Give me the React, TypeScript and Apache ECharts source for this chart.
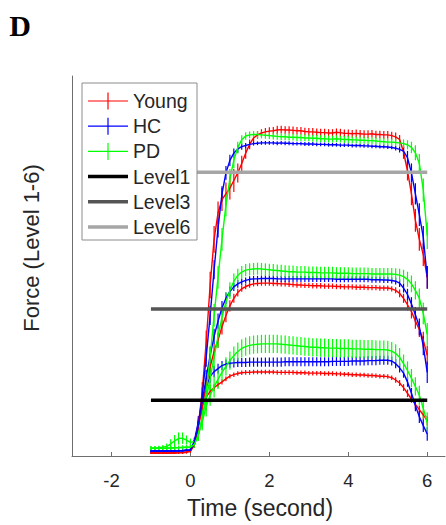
import React, { useEffect, useRef } from "react";
import * as echarts from "echarts";

// time grid: -1.0 s to 6.0 s in 0.1 s steps (71 samples)
const T_START = -1;
const T_STEP = 0.1;
const N = 71;
const TIME = Array.from({ length: N }, (_, i) => Math.round((T_START + i * T_STEP) * 10) / 10);

const X_TICKS = [-2, 0, 2, 4, 6];
const LEVEL_T = [-1, 6];
const LEVEL_NAMES = ["Level1", "Level3", "Level6"];
const LEVEL_VALUES = [14.7, 38.7, 74.7];
const GROUP_NAMES = ["Young", "HC", "PD"];

// ---- Level 6 (high) ----
const youngL6 = [
  0.8, 0.8, 0.8, 0.8, 0.8, 0.8, 0.9, 0.9, 0.9, 1.0,
  1.3, 3.0, 8.0, 17.0, 30.0, 45.0, 57.0, 64.0, 67.5, 69.0,
  70.5, 72.5, 74.5, 77.0, 79.7, 82.0, 83.7, 84.5, 85.0, 85.3,
  85.5, 85.6, 85.8, 85.9, 85.8, 85.8, 85.7, 85.6, 85.6, 85.4,
  85.3, 85.3, 85.2, 85.1, 85.1, 85.0, 85.0, 85.2, 85.1, 84.9,
  84.9, 84.8, 84.9, 84.8, 84.7, 84.7, 84.8, 84.6, 84.6, 84.5,
  84.5, 84.3, 84.0, 83.3, 80.0, 75.0, 69.0, 62.0, 57.0, 53.0,
  47.0,
];
const youngL6Err = [
  0.3, 0.3, 0.3, 0.3, 0.3, 0.3, 0.3, 0.3, 0.3, 0.3,
  0.4, 0.8, 1.5, 2.5, 3.0, 3.5, 3.5, 3.0, 3.0, 3.0,
  3.0, 3.0, 2.5, 2.0, 1.5, 1.3, 1.1, 1.0, 1.0, 1.0,
  1.0, 1.0, 1.1, 1.0, 1.0, 1.0, 1.0, 1.0, 1.0, 1.0,
  1.0, 1.0, 1.0, 1.0, 1.0, 1.0, 1.0, 1.0, 1.0, 1.0,
  1.0, 1.0, 1.0, 1.0, 1.0, 1.0, 1.0, 1.0, 1.0, 1.0,
  1.0, 1.0, 1.1, 1.2, 1.8, 2.5, 3.0, 3.0, 3.0, 3.0,
  3.0,
];
const hcL6 = [
  1.3, 1.3, 1.3, 1.3, 1.3, 1.3, 1.3, 1.4, 1.4, 1.5,
  1.5, 3.5, 8.0, 16.0, 26.0, 37.0, 49.0, 60.0, 69.0, 74.5,
  77.8, 79.7, 80.8, 81.4, 81.7, 82.0, 82.2, 82.3, 82.4, 82.4,
  82.4, 82.4, 82.3, 82.4, 82.3, 82.3, 82.2, 82.2, 82.2, 82.1,
  82.1, 82.1, 82.0, 82.0, 82.0, 81.9, 81.9, 81.9, 81.8, 81.8,
  81.8, 81.7, 81.7, 81.7, 81.6, 81.6, 81.5, 81.5, 81.4, 81.4,
  81.3, 81.2, 81.0, 80.7, 80.2, 78.5, 74.5, 69.0, 63.5, 57.5,
  47.0,
];
const hcL6Err = [
  0.3, 0.3, 0.3, 0.3, 0.3, 0.3, 0.3, 0.3, 0.3, 0.3,
  0.4, 0.7, 1.2, 2.0, 2.5, 2.5, 2.5, 2.5, 2.0, 1.8,
  1.5, 1.2, 1.0, 0.8, 0.7, 0.6, 0.5, 0.5, 0.5, 0.5,
  0.5, 0.5, 0.5, 0.5, 0.5, 0.5, 0.5, 0.5, 0.5, 0.5,
  0.5, 0.5, 0.5, 0.5, 0.5, 0.5, 0.5, 0.5, 0.5, 0.5,
  0.5, 0.5, 0.5, 0.5, 0.5, 0.5, 0.5, 0.5, 0.5, 0.5,
  0.5, 0.5, 0.6, 0.8, 1.2, 1.8, 2.5, 2.8, 3.0, 3.0,
  3.0,
];
const pdL6 = [
  2.0, 2.0, 2.0, 2.0, 2.0, 2.1, 2.1, 2.2, 2.2, 2.3,
  2.3, 3.0, 5.5, 10.0, 17.0, 26.0, 37.0, 47.0, 57.0, 66.0,
  73.0, 77.8, 81.2, 83.2, 84.2, 84.5, 84.6, 84.6, 84.5, 84.4,
  84.3, 84.2, 84.1, 84.0, 84.0, 83.9, 83.9, 83.8, 83.8, 83.7,
  83.7, 83.6, 83.6, 83.5, 83.5, 83.4, 83.4, 83.5, 83.4, 83.3,
  83.3, 83.2, 83.2, 83.1, 83.1, 83.0, 83.0, 82.9, 82.8, 82.7,
  82.6, 82.6, 82.5, 82.4, 82.2, 81.9, 81.2, 79.8, 77.0, 70.0,
  58.0,
];
const pdL6Err = [
  0.5, 0.5, 0.5, 0.5, 0.5, 0.5, 0.5, 0.5, 0.5, 0.5,
  0.5, 0.8, 1.2, 2.0, 2.5, 3.0, 3.0, 3.0, 3.0, 3.0,
  2.5, 2.0, 1.5, 1.2, 1.0, 0.9, 0.9, 0.9, 0.9, 0.9,
  0.9, 0.9, 0.9, 0.9, 0.9, 0.9, 0.9, 0.9, 0.9, 0.9,
  0.9, 0.9, 0.9, 0.9, 0.9, 0.9, 0.9, 0.9, 0.9, 0.9,
  0.9, 0.9, 0.9, 0.9, 0.9, 0.9, 0.9, 0.9, 0.9, 0.9,
  0.9, 0.9, 1.0, 1.0, 1.1, 1.2, 1.5, 2.0, 2.5, 3.0,
  3.5,
];

// ---- Level 3 (middle) ----
const youngL3 = [
  0.8, 0.8, 0.8, 0.8, 0.8, 0.8, 0.8, 0.9, 0.9, 1.0,
  1.3, 3.0, 7.5, 13.0, 18.5, 23.5, 27.5, 30.5, 34.0, 37.0,
  39.5, 41.5, 43.0, 44.0, 44.6, 45.0, 45.3, 45.4, 45.5, 45.5,
  45.5, 45.4, 45.4, 45.3, 45.3, 45.2, 45.1, 45.0, 45.0, 44.9,
  44.9, 44.8, 44.8, 44.8, 44.7, 44.7, 44.7, 44.6, 44.6, 44.5,
  44.5, 44.5, 44.4, 44.4, 44.4, 44.3, 44.3, 44.3, 44.2, 44.2,
  44.2, 44.0, 43.6, 42.8, 41.5, 39.8, 38.0, 35.5, 33.3, 30.5,
  26.5,
];
const youngL3Err = [
  0.3, 0.3, 0.3, 0.3, 0.3, 0.3, 0.3, 0.3, 0.3, 0.3,
  0.4, 0.8, 1.5, 2.0, 2.0, 2.0, 2.0, 2.0, 2.0, 1.8,
  1.5, 1.2, 1.0, 0.8, 0.7, 0.7, 0.7, 0.7, 0.7, 0.7,
  0.7, 0.7, 0.7, 0.7, 0.7, 0.7, 0.7, 0.7, 0.7, 0.7,
  0.7, 0.7, 0.7, 0.7, 0.7, 0.7, 0.7, 0.7, 0.7, 0.7,
  0.7, 0.7, 0.7, 0.7, 0.7, 0.7, 0.7, 0.7, 0.7, 0.7,
  0.7, 0.7, 0.8, 1.0, 1.2, 1.5, 1.8, 2.0, 2.0, 2.2,
  2.5,
];
const hcL3 = [
  1.3, 1.3, 1.3, 1.3, 1.3, 1.3, 1.3, 1.4, 1.4, 1.5,
  1.5, 3.5, 8.5, 14.5, 20.5, 26.5, 31.5, 35.5, 39.0, 41.5,
  43.3, 44.5, 45.3, 45.8, 46.2, 46.5, 46.6, 46.6, 46.7, 46.7,
  46.7, 46.7, 46.6, 46.6, 46.6, 46.6, 46.6, 46.6, 46.6, 46.6,
  46.6, 46.6, 46.6, 46.6, 46.6, 46.6, 46.6, 46.5, 46.5, 46.5,
  46.5, 46.5, 46.5, 46.5, 46.5, 46.5, 46.4, 46.4, 46.4, 46.3,
  46.3, 46.2, 46.0, 45.5, 44.2, 42.5, 40.0, 37.2, 34.0, 29.0,
  22.0,
];
const hcL3Err = [
  0.3, 0.3, 0.3, 0.3, 0.3, 0.3, 0.3, 0.3, 0.3, 0.3,
  0.4, 0.8, 1.5, 2.0, 2.2, 2.2, 2.0, 2.0, 1.8, 1.5,
  1.3, 1.1, 1.0, 0.9, 0.8, 0.8, 0.8, 0.8, 0.8, 0.8,
  0.8, 0.8, 0.8, 0.8, 0.8, 0.8, 0.8, 0.8, 0.8, 0.8,
  0.8, 0.8, 0.8, 0.8, 0.8, 0.8, 0.8, 0.8, 0.8, 0.8,
  0.8, 0.8, 0.8, 0.8, 0.8, 0.8, 0.8, 0.8, 0.8, 0.8,
  0.8, 0.8, 0.9, 1.0, 1.2, 1.5, 1.8, 2.0, 2.2, 2.5,
  2.8,
];
const pdL3 = [
  2.0, 2.0, 2.0, 2.0, 2.1, 2.1, 2.2, 2.2, 2.3, 2.3,
  2.3, 3.0, 5.5, 10.0, 15.0, 20.5, 26.0, 31.5, 36.5, 40.5,
  43.5, 46.0, 47.5, 48.4, 48.9, 49.1, 49.2, 49.3, 49.2, 49.1,
  49.0, 48.9, 48.8, 48.7, 48.6, 48.5, 48.5, 48.4, 48.4, 48.4,
  48.3, 48.3, 48.3, 48.2, 48.2, 48.2, 48.2, 48.1, 48.1, 48.1,
  48.1, 48.0, 48.0, 48.0, 48.0, 48.0, 47.9, 47.9, 47.9, 47.9,
  47.9, 47.9, 47.8, 47.6, 47.2, 46.5, 45.3, 43.6, 41.5, 37.5,
  32.0,
];
const pdL3Err = [
  0.5, 0.5, 0.5, 0.5, 0.5, 0.5, 0.5, 0.5, 0.5, 0.5,
  0.5, 0.8, 1.5, 2.5, 3.0, 3.0, 3.0, 3.0, 2.8, 2.5,
  2.2, 2.0, 1.8, 1.6, 1.6, 1.6, 1.6, 1.6, 1.6, 1.6,
  1.6, 1.6, 1.6, 1.6, 1.6, 1.6, 1.6, 1.6, 1.6, 1.6,
  1.6, 1.6, 1.6, 1.6, 1.6, 1.6, 1.6, 1.6, 1.6, 1.6,
  1.6, 1.6, 1.6, 1.6, 1.6, 1.6, 1.6, 1.6, 1.6, 1.6,
  1.6, 1.6, 1.6, 1.7, 1.8, 2.0, 2.2, 2.4, 2.6, 2.8,
  3.0,
];

// ---- Level 1 (low) ----
const youngL1 = [
  0.8, 0.8, 0.8, 0.8, 0.8, 0.8, 0.8, 0.9, 0.9, 1.0,
  1.3, 3.5, 8.0, 13.0, 15.5, 17.0, 18.0, 18.8, 19.5, 20.3,
  21.0, 21.4, 21.7, 21.9, 22.0, 22.0, 22.1, 22.1, 22.1, 22.1,
  22.1, 22.1, 22.0, 22.0, 22.0, 22.0, 22.0, 21.9, 21.9, 21.9,
  21.8, 21.8, 21.8, 21.8, 21.7, 21.7, 21.7, 21.6, 21.6, 21.5,
  21.5, 21.4, 21.4, 21.3, 21.3, 21.2, 21.2, 21.1, 21.0, 21.0,
  20.9, 20.6, 20.0, 19.2, 18.0, 16.5, 15.0, 13.6, 12.2, 10.8,
  9.3,
];
const youngL1Err = [
  0.3, 0.3, 0.3, 0.3, 0.3, 0.3, 0.3, 0.3, 0.3, 0.3,
  0.4, 0.8, 1.5, 1.5, 1.2, 1.0, 0.9, 0.8, 0.7, 0.6,
  0.6, 0.6, 0.6, 0.6, 0.6, 0.6, 0.6, 0.6, 0.6, 0.6,
  0.6, 0.6, 0.6, 0.6, 0.6, 0.6, 0.6, 0.6, 0.6, 0.6,
  0.6, 0.6, 0.6, 0.6, 0.6, 0.6, 0.6, 0.6, 0.6, 0.6,
  0.6, 0.6, 0.6, 0.6, 0.6, 0.6, 0.6, 0.6, 0.6, 0.6,
  0.6, 0.6, 0.7, 0.8, 0.9, 1.0, 1.0, 1.1, 1.1, 1.2,
  1.3,
];
const hcL1 = [
  1.3, 1.3, 1.3, 1.3, 1.3, 1.3, 1.3, 1.4, 1.4, 1.5,
  1.5, 4.0, 9.0, 14.0, 18.0, 21.0, 22.2, 23.0, 23.8, 24.2,
  24.4, 24.5, 24.6, 24.6, 24.6, 24.7, 24.7, 24.7, 24.7, 24.7,
  24.7, 24.7, 24.7, 24.7, 24.8, 24.8, 24.8, 24.8, 24.8, 24.8,
  24.8, 24.8, 24.8, 24.8, 24.8, 24.8, 24.9, 24.9, 24.9, 24.9,
  24.9, 25.0, 25.0, 25.0, 25.0, 25.1, 25.1, 25.1, 25.2, 25.2,
  25.2, 25.0, 24.3, 23.2, 21.8, 19.5, 16.5, 13.3, 10.3, 8.0,
  5.8,
];
const hcL1Err = [
  0.3, 0.3, 0.3, 0.3, 0.3, 0.3, 0.3, 0.3, 0.3, 0.3,
  0.4, 0.8, 1.5, 2.0, 2.0, 1.8, 1.5, 1.3, 1.2, 1.2,
  1.2, 1.2, 1.2, 1.2, 1.2, 1.2, 1.2, 1.2, 1.2, 1.2,
  1.2, 1.2, 1.2, 1.2, 1.2, 1.2, 1.2, 1.2, 1.2, 1.2,
  1.2, 1.2, 1.2, 1.2, 1.2, 1.2, 1.2, 1.2, 1.2, 1.2,
  1.2, 1.2, 1.2, 1.2, 1.2, 1.2, 1.2, 1.2, 1.2, 1.2,
  1.2, 1.2, 1.2, 1.2, 1.2, 1.3, 1.4, 1.5, 1.6, 1.7,
  1.8,
];
const pdL1 = [
  2.1, 2.1, 2.2, 2.3, 2.5, 3.2, 4.0, 4.6, 4.7, 4.2,
  3.6, 3.8, 5.5, 9.0, 13.0, 16.0, 18.2, 20.2, 22.0, 23.6,
  25.1, 26.4, 27.5, 28.3, 28.8, 29.1, 29.3, 29.4, 29.5, 29.5,
  29.5, 29.5, 29.5, 29.4, 29.3, 29.2, 29.1, 29.0, 28.9, 28.8,
  28.7, 28.6, 28.6, 28.5, 28.5, 28.4, 28.4, 28.4, 28.3, 28.3,
  28.3, 28.2, 28.2, 28.2, 28.1, 28.1, 28.1, 28.0, 28.0, 28.0,
  27.9, 27.6, 27.0, 26.0, 24.3, 22.5, 20.5, 18.3, 16.0, 12.5,
  8.7,
];
const pdL1Err = [
  0.5, 0.5, 0.5, 0.6, 0.8, 1.2, 1.5, 1.6, 1.5, 1.2,
  1.0, 1.0, 1.5, 2.2, 2.6, 2.8, 2.8, 2.6, 2.5, 2.4,
  2.4, 2.4, 2.4, 2.4, 2.4, 2.4, 2.4, 2.4, 2.4, 2.4,
  2.4, 2.4, 2.4, 2.4, 2.4, 2.4, 2.4, 2.4, 2.4, 2.4,
  2.4, 2.4, 2.4, 2.4, 2.4, 2.4, 2.4, 2.4, 2.4, 2.4,
  2.4, 2.4, 2.4, 2.4, 2.4, 2.4, 2.4, 2.4, 2.4, 2.4,
  2.4, 2.4, 2.4, 2.4, 2.4, 2.4, 2.4, 2.4, 2.5, 2.6,
  2.8,
];

const GROUP_COLORS = ["#ff0000", "#0000ff", "#00ff00"];
const LEVEL_COLORS = ["#000000", "#555555", "#a6a6a6"];
const TEXT_COLOR = "#262626";
const AXIS_COLOR = "#6e6e6e";
const FONT = "'Liberation Sans', Arial, Helvetica, sans-serif";

const CURVES = [
  { group: 0, values: youngL1, errs: youngL1Err },
  { group: 1, values: hcL1, errs: hcL1Err },
  { group: 2, values: pdL1, errs: pdL1Err },
  { group: 0, values: youngL3, errs: youngL3Err },
  { group: 1, values: hcL3, errs: hcL3Err },
  { group: 2, values: pdL3, errs: pdL3Err },
  { group: 0, values: youngL6, errs: youngL6Err },
  { group: 1, values: hcL6, errs: hcL6Err },
  { group: 2, values: pdL6, errs: pdL6Err },
];

function buildOption() {
  const series: any[] = [];
  CURVES.forEach((c, k) => {
    const color = GROUP_COLORS[c.group];
    series.push({
      type: "custom",
      name: GROUP_NAMES[c.group] + "-err-" + k,
      data: TIME.map((t, i) => [t, c.values[i], c.errs[i]]),
      encode: { x: 0, y: 1 },
      silent: true,
      z: 2,
      renderItem: (params: any, api: any) => {
        const x = api.value(0);
        const y = api.value(1);
        const e = api.value(2);
        const p1 = api.coord([x, y - e]);
        const p2 = api.coord([x, y + e]);
        return {
          type: "line",
          shape: { x1: p1[0], y1: p1[1], x2: p2[0], y2: p2[1] },
          style: { stroke: color, lineWidth: 1.2 },
        };
      },
    });
    series.push({
      type: "line",
      name: GROUP_NAMES[c.group] + "-" + k,
      data: TIME.map((t, i) => [t, c.values[i]]),
      showSymbol: false,
      symbol: "none",
      silent: true,
      z: 3,
      lineStyle: { color, width: 1.4 },
    });
  });
  LEVEL_VALUES.forEach((v, k) => {
    series.push({
      type: "line",
      name: LEVEL_NAMES[k],
      data: LEVEL_T.map((t) => [t, v]),
      symbol: "none",
      silent: true,
      z: 5,
      lineStyle: { color: LEVEL_COLORS[k], width: 3.5 },
    });
  });

  // legend (drawn as graphic so it mirrors the MATLAB legend box)
  const LX = 82, LY = 83, LW = 115, LH = 157;
  const rowY0 = 101, rowStep = 25.2;
  const legendEls: any[] = [
    {
      type: "rect",
      shape: { x: LX, y: LY, width: LW, height: LH },
      style: { fill: "#ffffff", stroke: "#8c8c8c", lineWidth: 1 },
      z: 100,
    },
  ];
  const labels = [...GROUP_NAMES, ...LEVEL_NAMES];
  const colors = [...GROUP_COLORS, ...LEVEL_COLORS];
  labels.forEach((lab, i) => {
    const cy = rowY0 + i * rowStep;
    legendEls.push({
      type: "line",
      shape: { x1: 88, y1: cy, x2: 128, y2: cy },
      style: { stroke: colors[i], lineWidth: i < 3 ? 1.2 : 3.5 },
      z: 101,
    });
    if (i < 3) {
      legendEls.push({
        type: "line",
        shape: { x1: 108, y1: cy - 8.5, x2: 108, y2: cy + 8.5 },
        style: { stroke: colors[i], lineWidth: 1.2 },
        z: 101,
      });
    }
    legendEls.push({
      type: "text",
      x: 133,
      y: cy,
      z: 101,
      style: {
        text: lab,
        fill: TEXT_COLOR,
        fontSize: 19.5,
        fontFamily: FONT,
        align: "left",
        verticalAlign: "middle",
      },
    });
  });

  return {
    animation: false,
    backgroundColor: "#ffffff",
    grid: { left: 72, top: 76, width: 373, height: 380, containLabel: false },
    xAxis: {
      type: "value",
      min: -3,
      max: 6.45,
      axisLine: { show: true, onZero: false, lineStyle: { color: AXIS_COLOR, width: 1 } },
      axisTick: {
        show: true,
        inside: true,
        length: 4,
        customValues: X_TICKS,
        lineStyle: { color: AXIS_COLOR },
      },
      axisLabel: {
        customValues: X_TICKS,
        color: TEXT_COLOR,
        fontSize: 18.5,
        fontFamily: FONT,
        margin: 15,
      },
      splitLine: { show: false },
    },
    yAxis: {
      type: "value",
      min: 0,
      max: 100,
      axisLine: { show: true, onZero: false, lineStyle: { color: AXIS_COLOR, width: 1 } },
      axisTick: { show: false },
      axisLabel: { show: false },
      splitLine: { show: false },
    },
    series,
    graphic: [
      {
        type: "text",
        x: 20,
        y: 25,
        style: {
          text: "D",
          fill: "#000000",
          fontSize: 30,
          fontWeight: "bold",
          fontFamily: "'Liberation Serif', 'Times New Roman', serif",
          align: "center",
          verticalAlign: "middle",
        },
      },
      {
        type: "text",
        x: 260,
        y: 508,
        style: {
          text: "Time (second)",
          fill: TEXT_COLOR,
          fontSize: 23,
          fontFamily: FONT,
          align: "center",
          verticalAlign: "middle",
        },
      },
      {
        type: "text",
        x: 31,
        y: 248,
        rotation: Math.PI / 2,
        style: {
          text: "Force (Level 1-6)",
          fill: TEXT_COLOR,
          fontSize: 22,
          fontFamily: FONT,
          align: "center",
          verticalAlign: "middle",
        },
      },
      ...legendEls,
    ],
  };
}

export default function App() {
  const ref = useRef<HTMLDivElement>(null);
  useEffect(() => {
    if (!ref.current) return;
    const chart = echarts.init(ref.current, null, { renderer: "svg" });
    chart.setOption(buildOption() as any);
    return () => chart.dispose();
  }, []);
  return (
    <div
      ref={ref}
      style={{ position: "fixed", left: 0, top: 0, width: 446, height: 525, background: "#fff" }}
    />
  );
}
